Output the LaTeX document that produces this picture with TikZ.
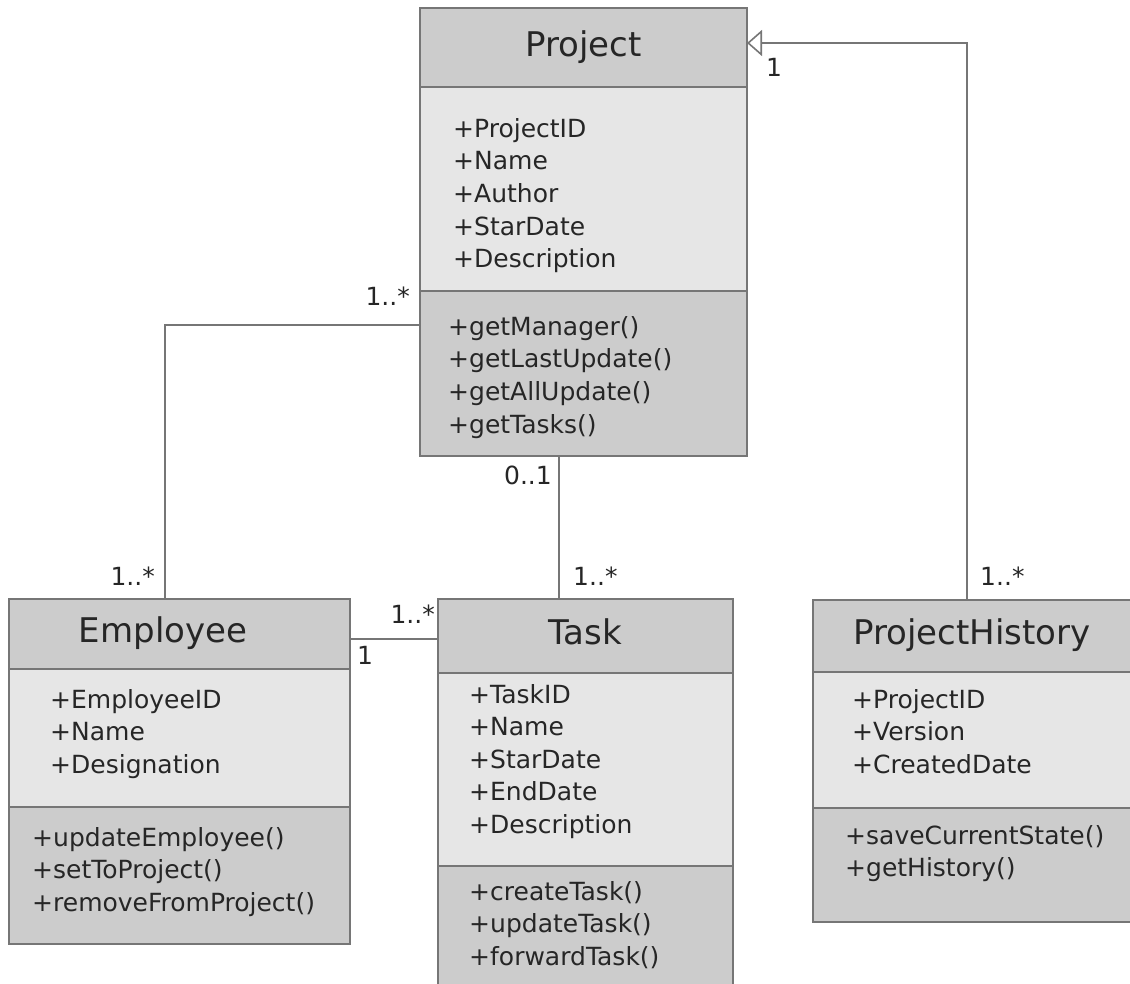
\documentclass[tikz,border=0pt]{standalone}
\usepackage{fontspec}
\setmainfont{DejaVu Sans}
\usetikzlibrary{arrows.meta}

\definecolor{headgray}{HTML}{CCCCCC}
\definecolor{attrgray}{HTML}{E6E6E6}
\definecolor{linegray}{HTML}{767676}

\tikzset{
  classbox/.style={draw=linegray, line width=1.6pt, anchor=north west, inner sep=0pt, outer sep=0pt},
  classhead/.style={classbox, fill=headgray},
  classattr/.style={classbox, fill=attrgray},
  classmeth/.style={classbox, fill=headgray},
  classname/.style={font=\fontsize{34}{40}\selectfont, text=black!85, text height=25.5pt, text depth=8.5pt, inner sep=0pt},
  member/.style={font=\fontsize{25}{32}\selectfont, text=black!85, anchor=base west, inner sep=0pt},
  mult/.style={font=\fontsize{25}{30}\selectfont, text=black!85, inner sep=0pt},
  assoc/.style={draw=linegray, line width=1.6pt},
  gen/.style={assoc, -{Triangle[open, length=15pt, width=26pt, line width=1.6pt, fill=white]}}
}

\begin{document}
\begin{tikzpicture}[x=1pt, y=-1pt]

\useasboundingbox (0,0) rectangle (1130,983);

% PROJECT
\node[classhead, minimum width=327pt, minimum height=79pt] (prjh) at (420,8) {};
\node[classattr, minimum width=327pt, minimum height=204pt] (prja) at (420,87) {};
\node[classmeth, minimum width=327pt, minimum height=165pt] (prjm) at (420,291) {};
\node[classname] (prjt) at (prjh) {Project};
\foreach \t [count=\i] in {+ProjectID,+Name,+Author,+StarDate,+Description}
  \node[member] (prja\i) at (453,{137+32.7*(\i-1)}) {\t};
\foreach \t [count=\i] in {+getManager(),+getLastUpdate(),+getAllUpdate(),+getTasks()}
  \node[member] (prjm\i) at (448,{335+32.7*(\i-1)}) {\t};

% EMPLOYEE
\node[classhead, minimum width=341pt, minimum height=70pt] (emph) at (9,599) {};
\node[classattr, minimum width=341pt, minimum height=138pt] (empa) at (9,669) {};
\node[classmeth, minimum width=341pt, minimum height=137pt] (empm) at (9,807) {};
\node[classname] (empt) at ([xshift=-16.5pt]emph.center) {Employee};
\foreach \t [count=\i] in {+EmployeeID,+Name,+Designation}
  \node[member] (empa\i) at (50,{708+32.5*(\i-1)}) {\t};
\foreach \t [count=\i] in {+updateEmployee(),+setToProject(),+removeFromProject()}
  \node[member] (empm\i) at (32,{846+32.5*(\i-1)}) {\t};

% TASK
\node[classhead, minimum width=295pt, minimum height=74pt] (taskh) at (438,599) {};
\node[classattr, minimum width=295pt, minimum height=193pt] (taska) at (438,673) {};
\node[classmeth, minimum width=295pt, minimum height=124pt] (taskm) at (438,866) {};
\node[classname] (taskt) at (taskh) {Task};
\foreach \t [count=\i] in {+TaskID,+Name,+StarDate,+EndDate,+Description}
  \node[member] (taska\i) at (469,{703+32.5*(\i-1)}) {\t};
\foreach \t [count=\i] in {+createTask(),+updateTask(),+forwardTask()}
  \node[member] (taskm\i) at (469,{900+32.5*(\i-1)}) {\t};

% PROJECT HISTORY
\node[classhead, minimum width=322pt, minimum height=72pt] (phh) at (813,600) {};
\node[classattr, minimum width=322pt, minimum height=136pt] (pha) at (813,672) {};
\node[classmeth, minimum width=322pt, minimum height=114pt] (phm) at (813,808) {};
\node[classname] (pht) at ([xshift=-2pt]phh.center) {ProjectHistory};
\foreach \t [count=\i] in {+ProjectID,+Version,+CreatedDate}
  \node[member] (pha\i) at (852,{708+32.5*(\i-1)}) {\t};
\foreach \t [count=\i] in {+saveCurrentState(),+getHistory()}
  \node[member] (phm\i) at (845,{844+32.5*(\i-1)}) {\t};

% RELATIONS
\draw[gen] ([xshift=154pt]phh.north west) |- ([yshift=4.5pt]prjh.east);
\draw[assoc] ([yshift=48.5pt]prjm.west) -| ([xshift=-14.5pt]emph.north);
\draw[assoc] ([xshift=-24.5pt]prjm.south) -- ([xshift=-24.5pt]prjm.south |- taskh.north);
\draw[assoc] ([yshift=-5pt]emph.east) -- ([yshift=-5pt]emph.east -| taskh.west);

% MULTIPLICITIES
\node[mult, anchor=base east] (m1) at (410,305) {1..*};
\node[mult, anchor=base east] (m2) at (155,585) {1..*};
\node[mult, anchor=base east] (m3) at (552,484) {0..1};
\node[mult, anchor=base west] (m4) at (573,585) {1..*};
\node[mult, anchor=base east] (m5) at (435,623) {1..*};
\node[mult, anchor=base west] (m6) at (357,664) {1};
\node[mult, anchor=base west] (m7) at (766,76) {1};
\node[mult, anchor=base west] (m8) at (980,585) {1..*};

\end{tikzpicture}
\end{document}
